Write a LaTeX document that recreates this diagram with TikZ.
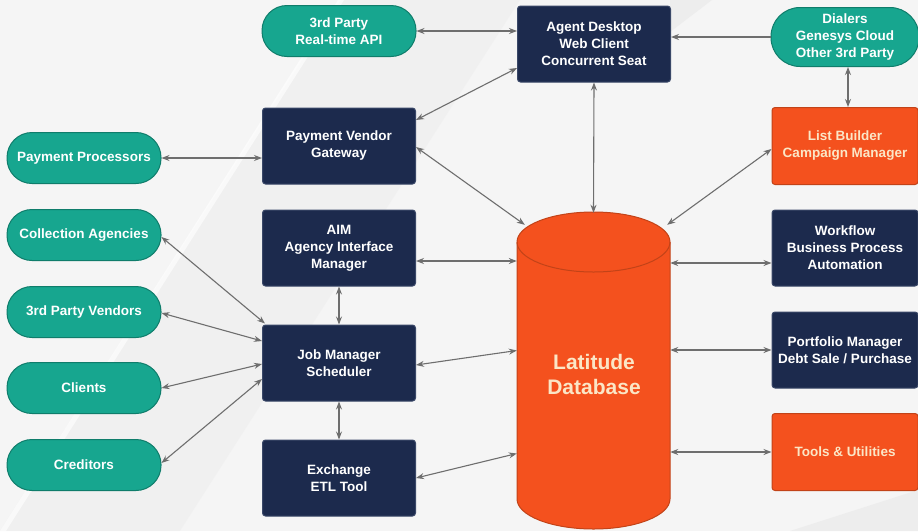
\documentclass[tikz,border=0pt]{standalone}
\usepackage{fontspec}
\setmainfont{Liberation Sans}
\usetikzlibrary{arrows.meta,calc}
\definecolor{bg}{HTML}{F5F5F5}
\definecolor{bgdark}{HTML}{EDEDED}
\definecolor{tealf}{HTML}{17A68F}
\definecolor{teald}{HTML}{0F7D6B}
\definecolor{navyf}{HTML}{1C2A4D}
\definecolor{navyd}{HTML}{3A4868}
\definecolor{orangef}{HTML}{F4511E}
\definecolor{oranged}{HTML}{C24318}
\definecolor{conn}{HTML}{6E6E6E}
\definecolor{cream}{HTML}{FBE6C6}
\tikzset{
  lbl/.style={font=\fontsize{13.5}{17}\selectfont\bfseries, align=center, inner sep=0pt},
  pill/.style={lbl, draw=teald, fill=tealf, text=white, line width=1pt,
    minimum width=154pt, minimum height=51pt, rounded corners=25pt},
  navybox/.style={lbl, draw=navyd, fill=navyf, text=white, line width=1pt,
    minimum width=153pt, minimum height=76pt, rounded corners=3pt},
  orangebox/.style={lbl, draw=oranged, fill=orangef, text=cream, line width=1pt,
    minimum width=146pt, minimum height=77pt, rounded corners=3pt},
  rightnavy/.style={navybox, minimum width=146pt},
  link/.style={draw=conn, line width=1.1pt, {Stealth[length=8pt,width=6pt]}-{Stealth[length=8pt,width=6pt]}},
  onelink/.style={draw=conn, line width=1.1pt, -{Stealth[length=8pt,width=6pt]}},
}
\begin{document}
\begin{tikzpicture}[x=1pt,y=-1pt]
\fill[bg] (0,0) rectangle (918,531);
\useasboundingbox (0,0) rectangle (918,531);
% faint background shading
\fill[bgdark, opacity=0.5] (0,531) -- (341,0) -- (520,0) -- (180,531) -- cycle;
\fill[white, opacity=0.6] (338,0) -- (344,0) -- (6,531) -- (0,531) -- cycle;
\fill[bgdark] (670,0) -- (712,0) -- (670,32) -- cycle;
\fill[bgdark] (918,490) -- (918,531) -- (790,531) -- cycle;

% left column pills
\node[pill] (api) at (339,31) {3rd Party\\Real-time API};
\node[pill] (pp) at (84,158) {Payment Processors};
\node[pill] (ca) at (84,235) {Collection Agencies};
\node[pill] (tpv) at (84,312) {3rd Party Vendors};
\node[pill] (cl) at (84,388) {Clients};
\node[pill] (cr) at (84,465) {Creditors};

% middle column boxes
\node[navybox] (agent) at (594,44) {Agent Desktop\\Web Client\\Concurrent Seat};
\node[navybox] (pvg) at (339,146) {Payment Vendor\\Gateway};
\node[navybox] (aim) at (339,248) {AIM\\Agency Interface\\Manager};
\node[navybox] (jm) at (339,363) {Job Manager\\Scheduler};
\node[navybox] (etl) at (339,478) {Exchange\\ETL Tool};

% right column
\node[pill, minimum width=148pt, minimum height=59pt, rounded corners=29pt] (dial) at (845,37) {Dialers\\Genesys Cloud\\Other 3rd Party};
\node[orangebox] (list) at (845,146) {List Builder\\Campaign Manager};
\node[rightnavy] (wf) at (845,248) {Workflow\\Business Process\\Automation};
\node[rightnavy] (pm) at (845,350) {Portfolio Manager\\Debt Sale / Purchase};
\node[orangebox] (tools) at (845,452) {Tools \& Utilities};

% database cylinder
\fill[orangef, draw=oranged, line width=1pt]
  (517,242) -- (517,499) arc[start angle=180, end angle=360, x radius=76.5, y radius=-30]
  -- (670,242) arc[start angle=0, end angle=180, x radius=76.5, y radius=-30] -- cycle;
\draw[oranged, line width=1pt] (517,242) arc[start angle=180, end angle=360, x radius=76.5, y radius=-30];
\node[minimum width=153pt, minimum height=317pt, inner sep=0pt] (db) at (593.5,371.5) {};
\node[font=\fontsize{21}{25}\selectfont\bfseries, text=cream, align=center] (dbl) at (594,374) {Latitude\\Database};

% connectors
\draw[link] (api.east) -- (api.east -| agent.west);
\draw[onelink] (dial.west) -- (dial.west -| agent.east);
\draw[link] ([xshift=3pt]dial.south) -- ([xshift=3pt]list.north);
\draw[link] ([yshift=-24pt]agent.west) -- ([yshift=26pt]pvg.east);
\draw[link] (agent.south) -- (db.north);
\draw[link] (pp.east) -- (pp.east -| pvg.west);
\draw[link] ([yshift=-1pt]pvg.east) -- ([xshift=8pt,yshift=-12pt]db.north west);
\draw[link] ([yshift=-3pt]list.west) -- ([xshift=-3pt,yshift=-12pt]db.north east);
\draw[link] ([yshift=-13pt]aim.east) -- ([yshift=-13pt]aim.east -| db.west);
\draw[link] ([yshift=-15pt]wf.west -| db.east) -- ([yshift=-15pt]wf.west);
\draw[link] (aim.south) -- (jm.north);
\draw[link] ([yshift=-2pt]ca.east) -- ([xshift=3pt,yshift=1pt]jm.north west);
\draw[link] ([yshift=-1pt]tpv.east) -- ([yshift=22pt]jm.west);
\draw[link] (cl.east) -- ([yshift=-1pt]jm.west);
\draw[link] ([yshift=2pt]cr.east) -- ([yshift=-16pt]jm.west);
\draw[link] ([yshift=-2pt]jm.east) -- ([yshift=21pt]db.west);
\draw[link] (jm.south) -- (etl.north);
\draw[link] (etl.east) -- ([yshift=-82pt]db.west);
\draw[link] (pm.west -| db.east) -- (pm.west);
\draw[link] (tools.west -| db.east) -- (tools.west);
\end{tikzpicture}
\end{document}
